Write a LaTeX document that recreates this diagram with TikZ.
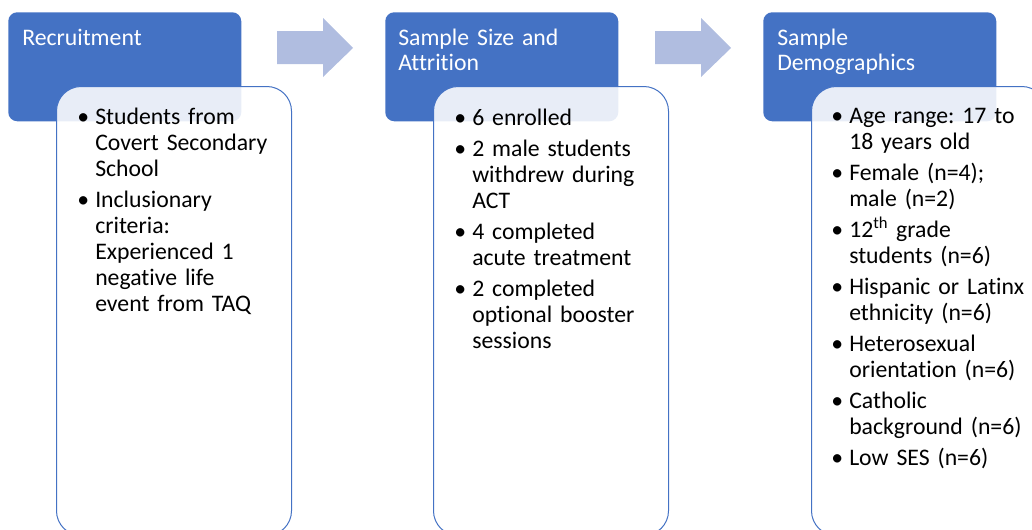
\documentclass[tikz,border=0pt]{standalone}
\usepackage{fontspec}
\setmainfont{Carlito}[Ligatures=NoCommon]
\frenchspacing
\usetikzlibrary{positioning}

\definecolor{accentblue}{RGB}{68,114,196}
\definecolor{arrowblue}{RGB}{176,189,224}

\newcommand{\bitem}[1]{\noindent\makebox[13.5pt][l]{\textbullet}%
  \parbox[t]{170pt}{\raggedright #1\par\xdef\lastdp{\the\prevdepth}}\par\prevdepth=\lastdp}
\newcommand{\bgap}{\vspace{3.75pt}}

\tikzset{
  headbox/.style={fill=accentblue, rounded corners=6.75pt, minimum width=174.75pt, minimum height=81.75pt, inner sep=0pt, anchor=north west},
  listbox/.style={fill=white, fill opacity=0.88, draw=accentblue, line width=0.75pt, rounded corners=18.5pt, minimum width=176.25pt, minimum height=336.75pt, inner sep=0pt, anchor=north west},
  headtext/.style={text=white, text width=170pt, align=left, inner sep=0pt, anchor=base west, font=\fontsize{17.8}{18.75}\selectfont\frenchspacing},
  listtext/.style={text=black, text width=190pt, align=left, inner sep=0pt, anchor=base west, font=\fontsize{17.8}{19.5}\selectfont\frenchspacing},
  stepshape/.style={fill=arrowblue}
}

\begin{document}
\begin{tikzpicture}[x=0.75pt, y=-0.75pt]
  \useasboundingbox (0,0) rectangle (1032,529);
  \clip (0,0) rectangle (1032,529);
  \foreach \x/\n in {8/1,385/2,763/3} {
    \node[headbox] (head\n) at (\x,12) {};
    \node[listbox] (list\n) at (\x+48,86) {};
  }
  \foreach \x in {277,655} {
    \fill[stepshape] (\x,31) -- ++(46,0) -- ++(0,-13) -- ++(30,30) -- ++(-30,29) -- ++(0,-13) -- ++(-46,0) -- cycle;
  }
  \node[headtext] (title1) at (22,45.5) {Recruitment};
  \node[headtext] (title2) at (398,45.5) {Sample Size and\\Attrition};
  \node[headtext] (title3) at (777,45.5) {Sample\\Demographics};
  \node[listtext] (items1) at (77,124) {%
    \bitem{Students from\\Covert Secondary\\School}\bgap
    \bitem{Inclusionary\\criteria:\\Experienced 1\\negative life\\event from TAQ}};
  \node[listtext] (items2) at (454,125) {%
    \bitem{6 enrolled}\bgap
    \bitem{2 male students\\withdrew during\\ACT}\bgap
    \bitem{4 completed\\acute treatment}\bgap
    \bitem{2 completed\\optional booster\\sessions}};
  \node[listtext] (items3) at (831,123) {%
    \bitem{Age range: 17 to\\18 years old}\bgap
    \bitem{Female (n=4);\\male (n=2)}\bgap
    \bitem{12\textsuperscript{th} grade\\students (n=6)}\bgap
    \bitem{Hispanic or Latinx\\ethnicity (n=6)}\bgap
    \bitem{Heterosexual\\orientation (n=6)}\bgap
    \bitem{Catholic\\background (n=6)}\bgap
    \bitem{Low SES (n=6)}};
\end{tikzpicture}
\end{document}
